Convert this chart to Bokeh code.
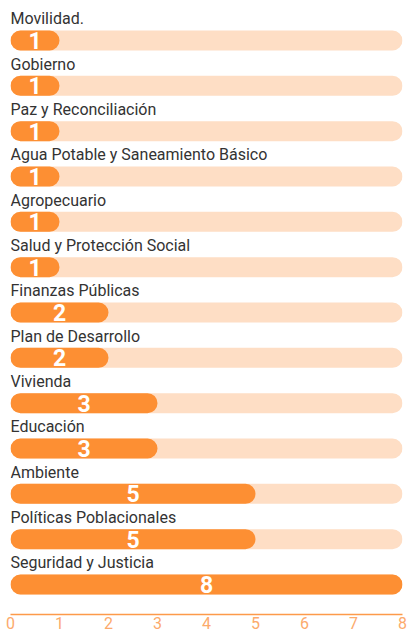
from bokeh.plotting import figure
from bokeh.models import ColumnDataSource, Range1d, FixedTicker
from bokeh.core.properties import value
from bokeh.embed import file_html
from bokeh.resources import INLINE

categories = ["Movilidad.", "Gobierno", "Paz y Reconciliación",
              "Agua Potable y Saneamiento Básico", "Agropecuario",
              "Salud y Protección Social", "Finanzas Públicas",
              "Plan de Desarrollo", "Vivienda", "Educación", "Ambiente",
              "Políticas Poblacionales", "Seguridad y Justicia"]
counts = [1, 1, 1, 1, 1, 1, 2, 2, 3, 3, 5, 5, 8]
max_value = 8
x_ticks = [0, 1, 2, 3, 4, 5, 6, 7, 8]

n = len(categories)
ypos = [n - 1 - i for i in range(n)]

src = ColumnDataSource(dict(
    y=ypos,
    ylab=[y + 0.48 for y in ypos],
    cat=categories,
    v=counts,
    half=[c / 2 for c in counts],
    full=[max_value] * n,
    txt=[str(c) for c in counts],
))

p = figure(width=408, height=632, output_backend="svg", toolbar_location=None,
           x_range=Range1d(0, max_value), y_range=Range1d(-0.662, n - 1 + 0.706),
           min_border_left=10, min_border_right=6, min_border_top=8,
           min_border_bottom=18)
p.outline_line_color = None
p.grid.grid_line_color = None
p.yaxis.visible = False
p.background_fill_color = "white"

p.hbar(y="y", left=0, right="full", height=0.44, source=src,
       fill_color="#FEDEC5", line_color=None, border_radius=10)
p.hbar(y="y", left=0, right="v", height=0.44, source=src,
       fill_color="#FD8F33", line_color=None, border_radius=10)

p.text(x=0, y="ylab", text="cat", source=src, text_font=value("Roboto"),
       text_font_size="16px", text_color="#333333", text_baseline="middle",
       text_align="left")
p.text(x="half", y="y", text="txt", source=src, text_font=value("Roboto"),
       text_font_size="23px", text_font_style="bold", text_color="white",
       text_baseline="middle", text_align="center")

ax = p.xaxis[0]
ax.ticker = FixedTicker(ticks=x_ticks)
ax.axis_line_color = "#FD9A4A"
ax.axis_line_width = 1.5
ax.major_tick_line_color = None
ax.minor_tick_line_color = None
ax.major_tick_out = 0
ax.major_tick_in = 0
ax.major_label_standoff = 2
ax.major_label_text_color = "#FCAA6C"
ax.major_label_text_font = "Roboto"
ax.major_label_text_font_style = "normal"
ax.major_label_text_font_size = "16px"

open("out.html", "w").write(file_html(p, INLINE))
